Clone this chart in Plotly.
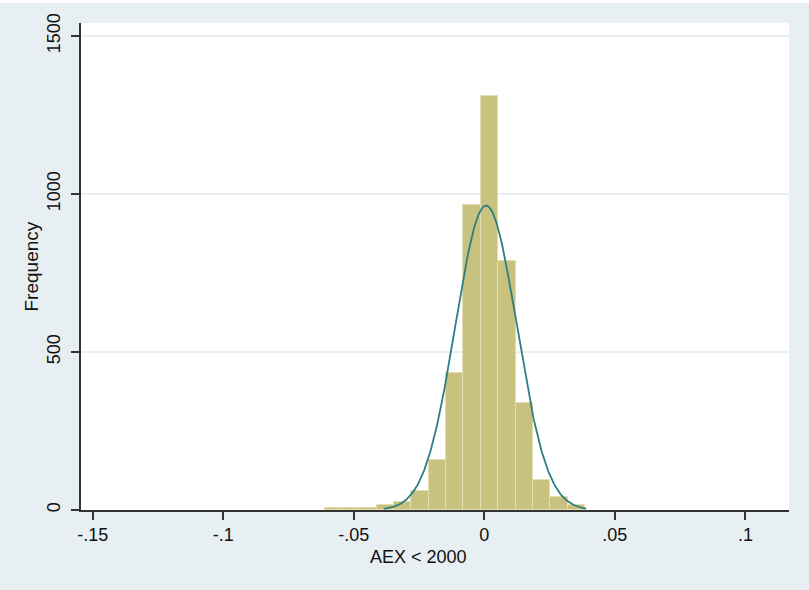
import numpy as np
import plotly.graph_objects as go

# Histogram of returns: bins of equal width starting at bin_start
bin_start = -0.0612
bin_width = 0.00665
frequencies = [5, 6, 7, 17, 26, 59, 157, 434, 964, 1311, 788, 338, 94, 42, 15]

# Fitted normal overlay (scaled to frequency)
norm_mean = 0.00065
norm_sd = 0.01174
norm_n = sum(frequencies)
curve_lo, curve_hi = -0.0385, 0.039

x_tickvals = [-0.15, -0.1, -0.05, 0, 0.05, 0.1]
x_ticktext = ["-.15", "-.1", "-.05", "0", ".05", ".1"]
y_tickvals = [0, 500, 1000, 1500]
y_ticktext = ["0", "500", "1000", "1500"]

centers = [bin_start + (i + 0.5) * bin_width for i in range(len(frequencies))]

xs = np.linspace(curve_lo, curve_hi, 300)
ys = norm_n * bin_width / (norm_sd * np.sqrt(2 * np.pi)) * np.exp(-0.5 * ((xs - norm_mean) / norm_sd) ** 2)

BG = "#e8eff2"
FONT = "Liberation Sans, Arial, sans-serif"

fig = go.Figure()
fig.add_trace(go.Bar(
    x=centers, y=frequencies, width=bin_width,
    marker=dict(color="#c9c27f", line=dict(color="#e2ddb2", width=1)),
    showlegend=False,
))
fig.add_trace(go.Scatter(
    x=xs, y=ys, mode="lines",
    line=dict(color="#2f7f80", width=1.8),
    showlegend=False,
))

W, H = 809, 590
L, R, T, B = 81, 20, 23, 80
pw, ph = W - L - R, H - T - B

fig.update_layout(
    width=W, height=H,
    margin=dict(l=L, r=R, t=T, b=B, pad=0),
    paper_bgcolor=BG, plot_bgcolor="white",
    bargap=0,
    font=dict(family=FONT, size=18, color="#111111"),
    xaxis=dict(
        range=[-0.1545, 0.1167], tickmode="array",
        tickvals=x_tickvals, ticktext=x_ticktext,
        ticks="outside", ticklen=8, tickwidth=1.5, tickcolor="#333333",
        showline=True, linecolor="#333333", linewidth=1.5,
        showgrid=False, zeroline=False,
    ),
    yaxis=dict(
        range=[0, 1541], tickmode="array",
        tickvals=y_tickvals, ticktext=y_ticktext, tickangle=-90,
        ticks="outside", ticklen=8, tickwidth=1.5, tickcolor="#333333",
        ticklabelstandoff=4,
        showline=True, linecolor="#333333", linewidth=1.5,
        showgrid=True, gridcolor="#e6eff1", gridwidth=1.5,
        zeroline=False,
    ),
    shapes=[dict(
        type="rect", xref="paper", yref="paper", layer="below",
        x0=-L / pw, x1=(W - L) / pw,
        y0=1 + (T - 3) / ph, y1=1 + T / ph,
        fillcolor="white", line=dict(width=0),
    )],
    annotations=[
        dict(text="AEX < 2000", xref="paper", yref="paper",
             x=(418 - L) / pw, y=-(557 - (H - B)) / ph,
             xanchor="center", yanchor="middle", showarrow=False,
             font=dict(size=18)),
        dict(text="Frequency", xref="paper", yref="paper",
             x=(31 - L) / pw, y=0.5, textangle=-90,
             xanchor="center", yanchor="middle", showarrow=False,
             font=dict(size=19)),
    ],
)

fig.write_html("out.html")
